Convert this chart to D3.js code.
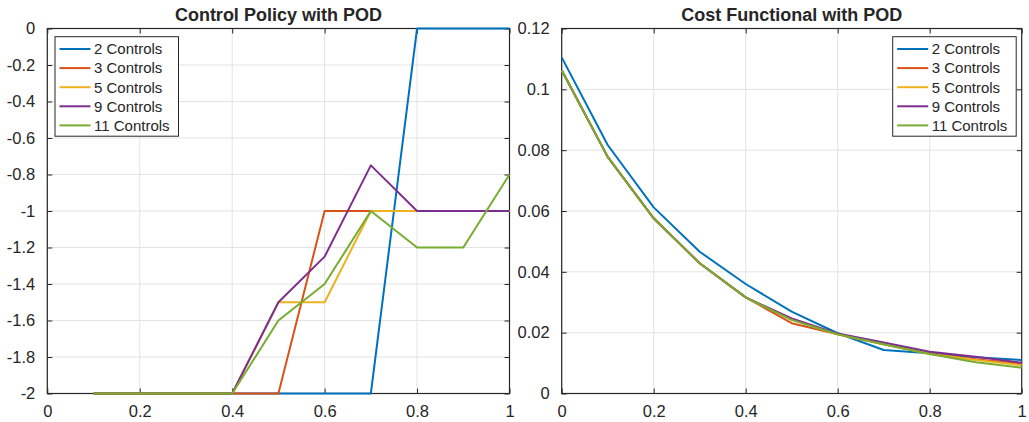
<!DOCTYPE html>
<html>
<head>
<meta charset="utf-8">
<script src="https://cdn.jsdelivr.net/npm/d3@7"></script>
<style>
html,body{margin:0;padding:0;background:#fff;}
svg{display:block;}
text{font-family:"Liberation Sans",Arial,Helvetica,sans-serif;fill:#262626;}
</style>
</head>
<body>
<svg id="chart" width="1029" height="422"></svg>
<script>
// ---- data ----
const seriesNames = ["2 Controls", "3 Controls", "5 Controls", "9 Controls", "11 Controls"];
const seriesColors = ["#0072BD", "#D95319", "#EDB120", "#7E2F8E", "#77AC30"];

// Left panel: control policy
const policyX = [0.1, 0.2, 0.3, 0.4, 0.5, 0.6, 0.7, 0.8, 0.9, 1.0];
const policy2  = [-2, -2, -2, -2, -2, -2, -2, 0, 0, 0];
const policy3  = [-2, -2, -2, -2, -2, -1, -1, -1, -1, -1];
const policy5  = [-2, -2, -2, -2, -1.5, -1.5, -1, -1, -1, -1];
const policy9  = [-2, -2, -2, -2, -1.5, -1.25, -0.75, -1, -1, -1];
const policy11 = [-2, -2, -2, -2, -1.6, -1.4, -1, -1.2, -1.2, -0.8];

// Right panel: cost functional
const costX = [0, 0.1, 0.2, 0.3, 0.4, 0.5, 0.6, 0.7, 0.8, 0.9, 1.0];
const cost2  = [0.1105, 0.0817, 0.0612, 0.0466, 0.0360, 0.0269, 0.0198, 0.0143, 0.0132, 0.0119, 0.0110];
const cost3  = [0.1063, 0.0778, 0.0576, 0.0428, 0.0316, 0.0231, 0.0195, 0.0162, 0.0131, 0.0113, 0.0097];
const cost5  = [0.1063, 0.0778, 0.0576, 0.0428, 0.0316, 0.0242, 0.0195, 0.0162, 0.0130, 0.0110, 0.0093];
const cost9  = [0.1063, 0.0778, 0.0576, 0.0428, 0.0316, 0.0247, 0.0197, 0.0168, 0.0137, 0.0121, 0.0101];
const cost11 = [0.1063, 0.0778, 0.0576, 0.0428, 0.0316, 0.0242, 0.0195, 0.0162, 0.0130, 0.0103, 0.0085];

const xTicks = [0, 0.2, 0.4, 0.6, 0.8, 1];
const xTickLabels = ["0", "0.2", "0.4", "0.6", "0.8", "1"];
const policyYTicks = [-2, -1.8, -1.6, -1.4, -1.2, -1, -0.8, -0.6, -0.4, -0.2, 0];
const policyYTickLabels = ["-2", "-1.8", "-1.6", "-1.4", "-1.2", "-1", "-0.8", "-0.6", "-0.4", "-0.2", "0"];
const costYTicks = [0, 0.02, 0.04, 0.06, 0.08, 0.1, 0.12];
const costYTickLabels = ["0", "0.02", "0.04", "0.06", "0.08", "0.1", "0.12"];

const titles = ["Control Policy with POD", "Cost Functional with POD"];

// ---- drawing ----
const svg = d3.select("#chart");
const axisColor = "#262626";
const gridColor = "#e3e3e3";

function panel(opts) {
  const {left, right, top, bottom, xDomain, yDomain, xs, ys, yTicks, yLabels, title, legendX, legendY} = opts;
  const x = d3.scaleLinear().domain(xDomain).range([left, right]);
  const y = d3.scaleLinear().domain(yDomain).range([bottom, top]);
  const g = svg.append("g");

  // grid
  g.append("g").selectAll("line.gx").data(xTicks).join("line")
    .attr("x1", d => x(d)).attr("x2", d => x(d))
    .attr("y1", top).attr("y2", bottom)
    .attr("stroke", gridColor).attr("stroke-width", 1);
  g.append("g").selectAll("line.gy").data(yTicks).join("line")
    .attr("x1", left).attr("x2", right)
    .attr("y1", d => y(d)).attr("y2", d => y(d))
    .attr("stroke", gridColor).attr("stroke-width", 1);

  // axes via d3 axes (inner ticks)
  const tickLen = 5;
  const xMap = new Map(xTicks.map((t, i) => [t, xTickLabels[i]]));
  const yMap = new Map(yTicks.map((t, i) => [t, yLabels[i]]));
  const axB = g.append("g").attr("transform", `translate(0,${bottom})`)
    .call(d3.axisBottom(x).tickValues(xTicks).tickFormat(d => xMap.get(d)).tickSizeInner(-tickLen).tickSizeOuter(0).tickPadding(12));
  const axT = g.append("g").attr("transform", `translate(0,${top})`)
    .call(d3.axisTop(x).tickValues(xTicks).tickFormat("").tickSizeInner(-tickLen).tickSizeOuter(0));
  const axL = g.append("g").attr("transform", `translate(${left},0)`)
    .call(d3.axisLeft(y).tickValues(yTicks).tickFormat(d => yMap.get(d)).tickSizeInner(-tickLen).tickSizeOuter(0).tickPadding(12));
  const axR = g.append("g").attr("transform", `translate(${right},0)`)
    .call(d3.axisRight(y).tickValues(yTicks).tickFormat("").tickSizeInner(-tickLen).tickSizeOuter(0));
  [axB, axT, axL, axR].forEach(a => {
    a.select(".domain").remove();
    a.selectAll("line").attr("stroke", axisColor).attr("stroke-width", 1);
    a.selectAll("text").attr("fill", axisColor).style("font-size", "16.5px")
      .style("font-family", '"Liberation Sans",Arial,Helvetica,sans-serif');
  });
  axB.selectAll("text").attr("dy", "0.71em");

  // box
  g.append("rect").attr("x", left).attr("y", top)
    .attr("width", right - left).attr("height", bottom - top)
    .attr("fill", "none").attr("stroke", axisColor).attr("stroke-width", 1.2);

  // lines
  const clipId = "clip" + Math.round(left);
  svg.append("clipPath").attr("id", clipId).append("rect")
    .attr("x", left - 2).attr("y", top - 2).attr("width", right - left + 4).attr("height", bottom - top + 4);
  const line = d3.line().x(d => x(d[0])).y(d => y(d[1]));
  ys.forEach((vals, i) => {
    g.append("path").attr("clip-path", `url(#${clipId})`)
      .datum(xs.map((xv, j) => [xv, vals[j]]))
      .attr("d", line).attr("fill", "none")
      .attr("stroke", seriesColors[i]).attr("stroke-width", 2)
      .attr("stroke-linejoin", "round");
  });

  // title
  g.append("text").attr("x", (left + right) / 2).attr("y", 21)
    .attr("text-anchor", "middle").style("font-size", "18px").style("font-weight", "bold")
    .attr("fill", "#000").text(title);

  // legend
  const lw = 123.5, lh = 99.5, rowH = 19.1;
  const lg = g.append("g").attr("transform", `translate(${legendX},${legendY})`);
  lg.append("rect").attr("width", lw).attr("height", lh)
    .attr("fill", "#fff").attr("stroke", axisColor).attr("stroke-width", 1);
  seriesNames.forEach((name, i) => {
    const cy = 12.3 + i * rowH;
    lg.append("line").attr("x1", 4.5).attr("x2", 35.5).attr("y1", cy).attr("y2", cy)
      .attr("stroke", seriesColors[i]).attr("stroke-width", 2);
    lg.append("text").attr("x", 39).attr("y", cy).attr("dy", "0.36em")
      .style("font-size", "15px").text(name);
  });
}

panel({
  left: 47.3, right: 509.5, top: 28.5, bottom: 393.5,
  xDomain: [0, 1], yDomain: [-2, 0],
  xs: policyX, ys: [policy2, policy3, policy5, policy9, policy11],
  yTicks: policyYTicks, yLabels: policyYTickLabels,
  title: titles[0], legendX: 55, legendY: 36.7
});
panel({
  left: 561.7, right: 1021.7, top: 28.5, bottom: 393.5,
  xDomain: [0, 1], yDomain: [0, 0.12],
  xs: costX, ys: [cost2, cost3, cost5, cost9, cost11],
  yTicks: costYTicks, yLabels: costYTickLabels,
  title: titles[1], legendX: 892.7, legendY: 36.7
});
</script>
</body>
</html>
